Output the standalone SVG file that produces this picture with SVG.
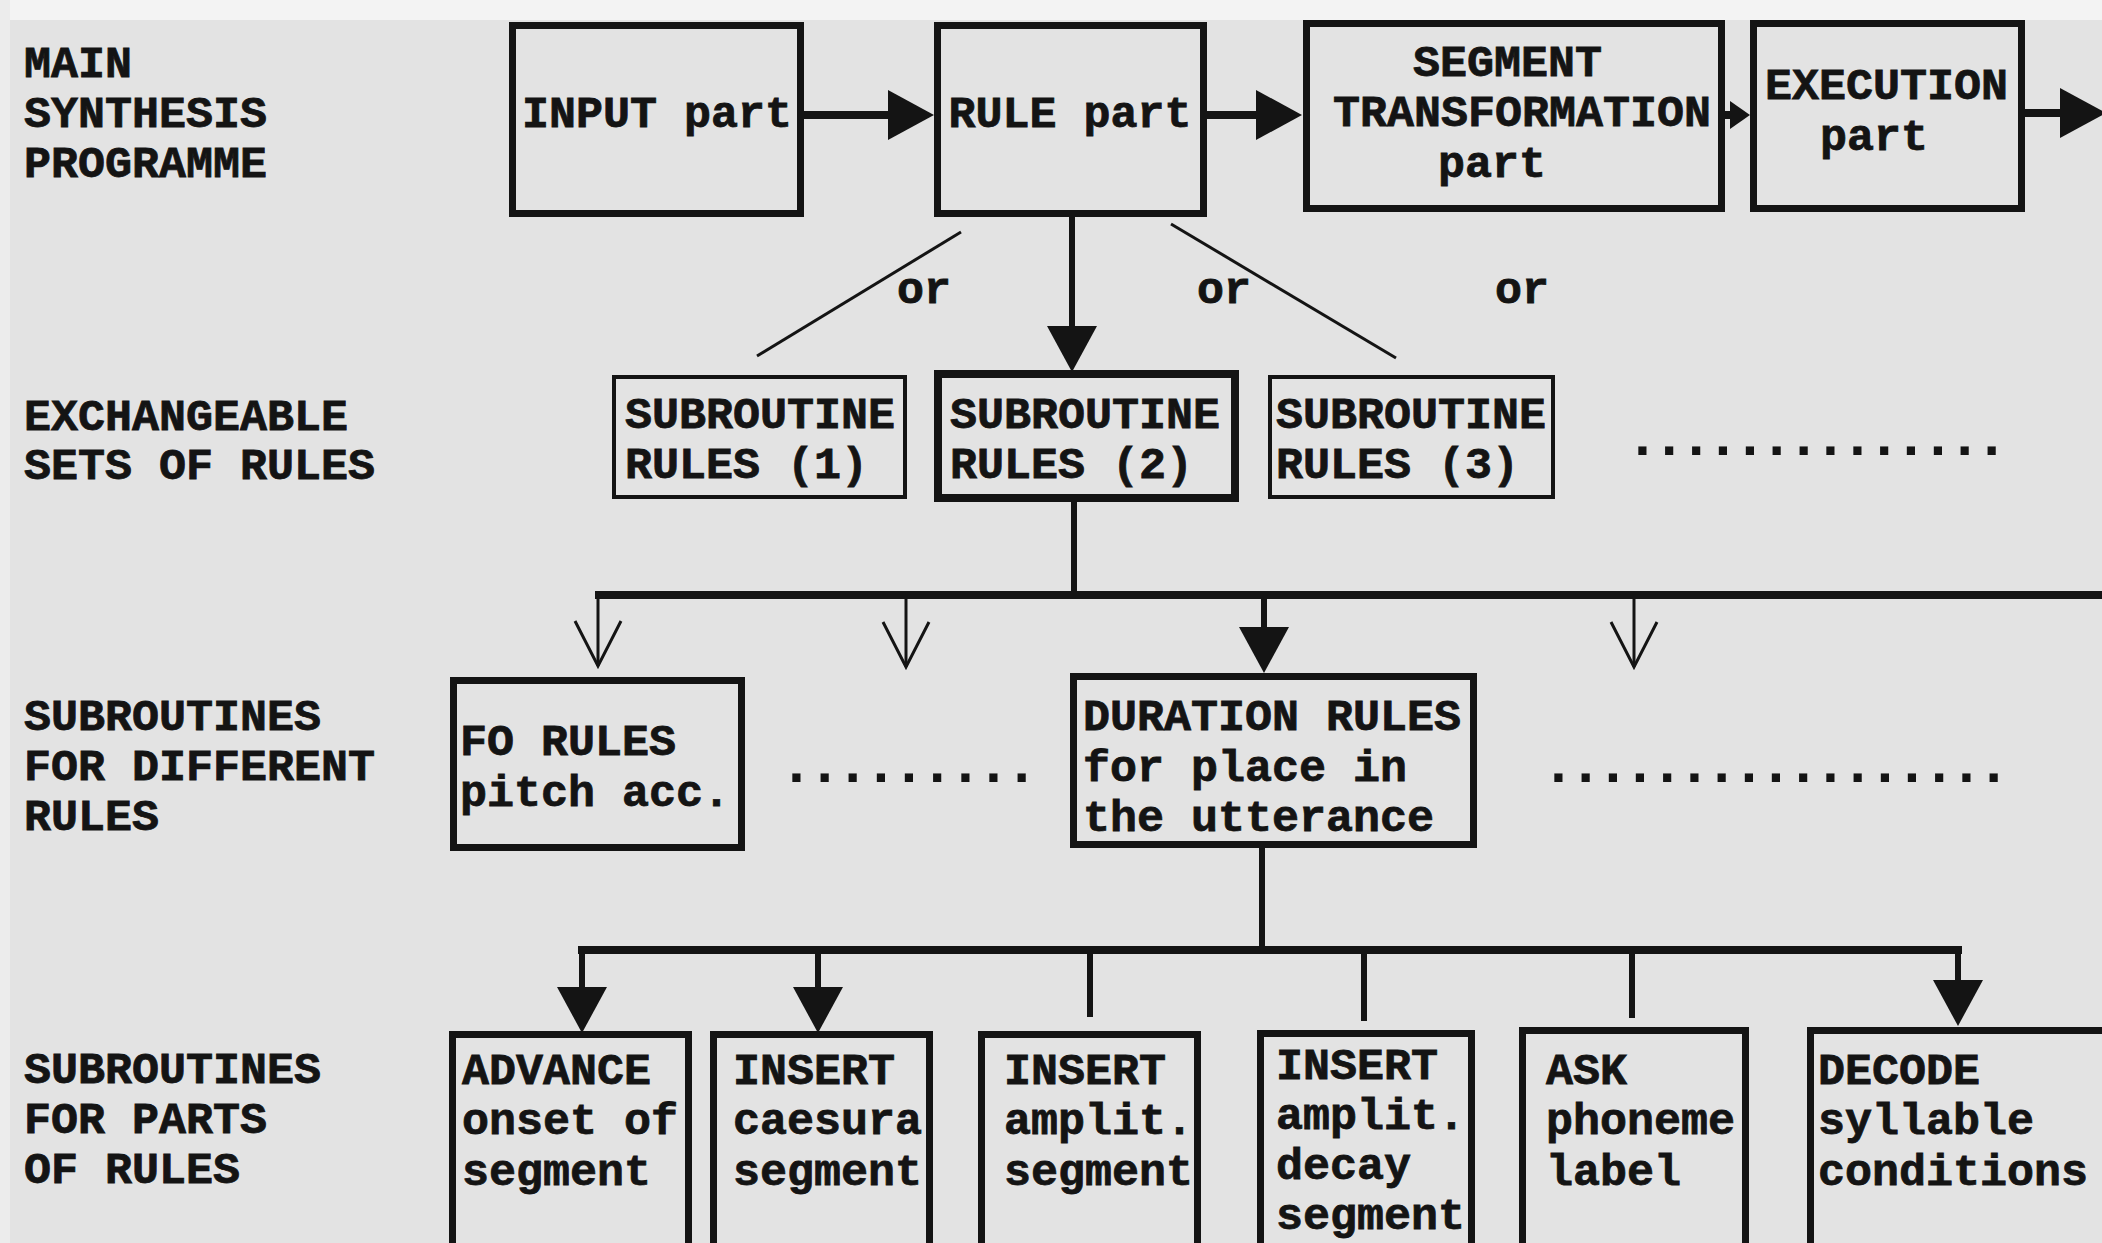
<svg xmlns="http://www.w3.org/2000/svg" width="2102" height="1243" viewBox="0 0 2102 1243">
<style>
.t{font-family:"Liberation Mono","Courier New",monospace;font-weight:bold;font-size:45px;fill:#141414;stroke:#141414;stroke-width:0.8}
.dots{font-family:"Liberation Mono","Courier New",monospace;font-weight:bold;font-size:58px;fill:#141414}
.box{fill:none;stroke:#141414;stroke-width:7}
.thin{fill:none;stroke:#141414;stroke-width:4}
.heavy{fill:none;stroke:#141414;stroke-width:8}
.bus{fill:none;stroke:#141414;stroke-width:8}
.stem{fill:none;stroke:#141414;stroke-width:6}
.fine{fill:none;stroke:#141414;stroke-width:3}
</style>
<defs>
<marker id="head" markerUnits="userSpaceOnUse" orient="auto" refX="0" refY="0" markerWidth="60" markerHeight="60" viewBox="-2 -30 60 60" overflow="visible">
<path d="M0,-25 L46,0 L0,25 Z" fill="#141414"/>
</marker>
<marker id="headS" markerUnits="userSpaceOnUse" orient="auto" refX="0" refY="0" markerWidth="30" markerHeight="30" viewBox="-2 -15 30 30" overflow="visible">
<path d="M0,-14 L20,0 L0,14 Z" fill="#141414"/>
</marker>
<marker id="open" markerUnits="userSpaceOnUse" orient="auto" refX="0" refY="0" markerWidth="60" markerHeight="60" viewBox="-50 -30 60 60" overflow="visible">
<path d="M-45,-23 L0,0 L-45,23" fill="none" stroke="#141414" stroke-width="3"/>
</marker>
</defs>
<rect x="0" y="0" width="2102" height="1243" fill="#e3e3e3"/>
<rect x="0" y="0" width="2102" height="20" fill="#f3f3f3"/>
<rect x="0" y="0" width="10" height="1243" fill="#ececec"/>

<g id="labels">
<text class="t" x="24" y="77">MAIN</text>
<text class="t" x="24" y="127">SYNTHESIS</text>
<text class="t" x="24" y="177">PROGRAMME</text>
<text class="t" x="24" y="430">EXCHANGEABLE</text>
<text class="t" x="24" y="479">SETS OF RULES</text>
<text class="t" x="24" y="730">SUBROUTINES</text>
<text class="t" x="24" y="780">FOR DIFFERENT</text>
<text class="t" x="24" y="830">RULES</text>
<text class="t" x="24" y="1083">SUBROUTINES</text>
<text class="t" x="24" y="1133">FOR PARTS</text>
<text class="t" x="24" y="1183">OF RULES</text>
</g>

<g id="connectors">
<path class="bus" d="M804,115 H888" marker-end="url(#head)"/>
<path class="bus" d="M1207,115 H1256" marker-end="url(#head)"/>
<path class="bus" d="M1725,115 H1730" marker-end="url(#headS)"/>
<path class="bus" d="M2025,113 H2060" marker-end="url(#head)"/>
<path class="stem" d="M1072,217 V326" marker-end="url(#head)"/>
<path class="fine" d="M961,232 L757,356"/>
<path class="fine" d="M1171,224 L1396,358"/>
<text class="t" x="897" y="303">or</text>
<text class="t" x="1197" y="303">or</text>
<text class="t" x="1495" y="303">or</text>
<path class="stem" d="M1074,502 V595"/>
<path class="bus" d="M595,595 H2110"/>
<path class="fine" d="M598,595 V666" marker-end="url(#open)"/>
<path class="fine" d="M906,595 V667" marker-end="url(#open)"/>
<path class="fine" d="M1634,595 V667" marker-end="url(#open)"/>
<path class="stem" d="M1264,595 V627" marker-end="url(#head)"/>
<path class="stem" d="M1262,848 V950"/>
<path class="bus" d="M578,950 H1962"/>
<path class="stem" d="M582,948 V987" marker-end="url(#head)"/>
<path class="stem" d="M818,948 V987" marker-end="url(#head)"/>
<path class="stem" d="M1090,948 V1017"/>
<path class="stem" d="M1364,948 V1021"/>
<path class="stem" d="M1632,948 V1018"/>
<path class="stem" d="M1958,948 V980" marker-end="url(#head)"/>
</g>

<g id="input">
<rect class="box" x="512.5" y="25.5" width="288" height="188"/>
<text class="t" x="657" y="127" text-anchor="middle">INPUT part</text>
</g>
<g id="rule">
<rect class="box" x="937.5" y="25.5" width="266" height="188"/>
<text class="t" x="1070" y="127" text-anchor="middle">RULE part</text>
</g>
<g id="segment">
<rect class="box" x="1306.5" y="23.5" width="415" height="185"/>
<text class="t" x="1413" y="76">SEGMENT</text>
<text class="t" x="1333" y="126">TRANSFORMATION</text>
<text class="t" x="1438" y="177">part</text>
</g>
<g id="execution">
<rect class="box" x="1753.5" y="23.5" width="268" height="185"/>
<text class="t" x="1765" y="99">EXECUTION</text>
<text class="t" x="1820" y="150">part</text>
</g>

<g id="sr1">
<rect class="thin" x="614" y="377" width="291" height="120"/>
<text class="t" x="625" y="428">SUBROUTINE</text>
<text class="t" x="625" y="478">RULES (1)</text>
</g>
<g id="sr2">
<rect class="heavy" x="938" y="374" width="297" height="124"/>
<text class="t" x="950" y="428">SUBROUTINE</text>
<text class="t" x="950" y="478">RULES (2)</text>
</g>
<g id="sr3">
<rect class="thin" x="1270" y="377" width="283" height="120"/>
<text class="t" x="1276" y="428">SUBROUTINE</text>
<text class="t" x="1276" y="478">RULES (3)</text>
</g>
<g id="dots-sets">
<text class="dots" x="1625" y="455" textLength="384" lengthAdjust="spacing">..............</text>
</g>

<g id="fo">
<rect class="box" x="453.5" y="680.5" width="288" height="167"/>
<text class="t" x="460" y="755">FO RULES</text>
<text class="t" x="460" y="806">pitch acc.</text>
</g>
<g id="dots-rules-1">
<text class="dots" x="779" y="782" textLength="260" lengthAdjust="spacing">.........</text>
</g>
<g id="duration">
<rect class="box" x="1073.5" y="676.5" width="400" height="168"/>
<text class="t" x="1083" y="730">DURATION RULES</text>
<text class="t" x="1083" y="781">for place in</text>
<text class="t" x="1083" y="831">the utterance</text>
</g>
<g id="dots-rules-2">
<text class="dots" x="1541" y="782" textLength="470" lengthAdjust="spacing">.................</text>
</g>

<g id="advance">
<rect class="box" x="452.5" y="1034.5" width="236" height="230"/>
<text class="t" x="462" y="1084">ADVANCE</text>
<text class="t" x="462" y="1134">onset of</text>
<text class="t" x="462" y="1185">segment</text>
</g>
<g id="insert-caesura">
<rect class="box" x="713.5" y="1034.5" width="216" height="230"/>
<text class="t" x="733" y="1084">INSERT</text>
<text class="t" x="733" y="1134">caesura</text>
<text class="t" x="733" y="1185">segment</text>
</g>
<g id="insert-amplit">
<rect class="box" x="981.5" y="1034.5" width="216" height="230"/>
<text class="t" x="1004" y="1084">INSERT</text>
<text class="t" x="1004" y="1134">amplit.</text>
<text class="t" x="1004" y="1185">segment</text>
</g>
<g id="insert-decay">
<rect class="box" x="1260.5" y="1033.5" width="211" height="230"/>
<text class="t" x="1276" y="1079">INSERT</text>
<text class="t" x="1276" y="1129">amplit.</text>
<text class="t" x="1276" y="1179">decay</text>
<text class="t" x="1276" y="1229">segment</text>
</g>
<g id="ask">
<rect class="box" x="1522.5" y="1030.5" width="223" height="230"/>
<text class="t" x="1546" y="1084">ASK</text>
<text class="t" x="1546" y="1134">phoneme</text>
<text class="t" x="1546" y="1185">label</text>
</g>
<g id="decode">
<rect class="box" x="1810.5" y="1030.5" width="300" height="230"/>
<text class="t" x="1818" y="1084">DECODE</text>
<text class="t" x="1818" y="1134">syllable</text>
<text class="t" x="1818" y="1185">conditions</text>
</g>
</svg>
